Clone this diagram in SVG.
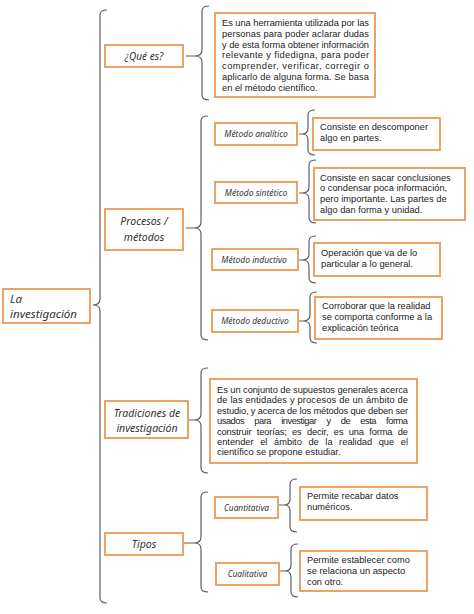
<svg xmlns="http://www.w3.org/2000/svg" width="474" height="614" viewBox="0 0 474 614">
<style>
.box{fill:#fff;stroke:#EBA262;stroke-width:2}
.br{fill:none;stroke:#5f5f5f;stroke-width:1.2}
.lb{font-family:"Noto Sans","DejaVu Sans",sans-serif;font-style:italic;fill:#333}
.tx{font-family:"Liberation Sans",Arial,sans-serif;font-size:9.3px;fill:#222}
</style>
<rect width="474" height="614" fill="#fff"/>
<g id="connectors">
<path class="br" d="M107,10 Q100,10 100,15 L100,299 Q100,305 93,305 Q100,305 100,311 L100,598 Q100,603 107,603"/>
<path class="br" d="M209,6 Q202,6 202,11 L202,50 Q202,56 195,56 Q202,56 202,62 L202,95 Q202,100 209,100 M186,56 L195,56"/>
<path class="br" d="M208,116 Q201,116 201,121 L201,222 Q201,228 194,228 Q201,228 201,234 L201,335 Q201,340 208,340 M186,228 L194,228"/>
<path class="br" d="M315,110 Q308,110 308,115 L308,128 Q308,134 302,134 Q308,134 308,140 L308,150 Q308,155 315,155 M299,134 L302,134"/>
<path class="br" d="M316,160 Q309,160 309,165 L309,187 Q309,193 302,193 Q309,193 309,199 L309,218 Q309,223 316,223 M299,193 L302,193"/>
<path class="br" d="M316,236 Q309,236 309,241 L309,254 Q309,260 302,260 Q309,260 309,266 L309,278 Q309,283 316,283 M299,260 L302,260"/>
<path class="br" d="M317,292 Q310,292 310,297 L310,315 Q310,321 303,321 Q310,321 310,327 L310,338 Q310,343 317,343 M299,321 L303,321"/>
<path class="br" d="M208,368 Q201,368 201,373 L201,414 Q201,420 194,420 Q201,420 201,426 L201,468 Q201,473 208,473 M189,420 L194,420"/>
<path class="br" d="M208,492 Q201,492 201,497 L201,537 Q201,543 194,543 Q201,543 201,549 L201,587 Q201,592 208,592 M184,543 L194,543"/>
<path class="br" d="M297,479 Q290,479 290,484 L290,499 Q290,505 284,505 Q290,505 290,511 L290,527 Q290,532 297,532 M279,505 L284,505"/>
<path class="br" d="M298,544 Q291,544 291,549 L291,565 Q291,571 285,571 Q291,571 291,577 L291,592 Q291,597 298,597 M280,571 L285,571"/>
</g>
<g id="n-investigacion">
<rect class="box" x="3" y="289" width="87" height="34"/>
<text class="lb" font-size="11.5" x="10" y="303">La</text>
<text class="lb" font-size="11.5" x="10" y="317.5">investigación</text>
</g>
<g id="n-quees">
<rect class="box" x="105" y="45" width="78" height="22"/>
<text class="lb" font-size="10" x="144" y="59.5" text-anchor="middle">¿Qué es?</text>
</g>
<g id="t-quees">
<rect class="box" x="215" y="13" width="160" height="84"/>
<text class="tx" x="222" y="26" textLength="147" lengthAdjust="spacing">Es una herramienta utilizada por las</text>
<text class="tx" x="222" y="36.8" textLength="147" lengthAdjust="spacing">personas para poder aclarar dudas</text>
<text class="tx" x="222" y="47.6" textLength="147" lengthAdjust="spacing">y de esta forma obtener información</text>
<text class="tx" x="222" y="58.4" textLength="147" lengthAdjust="spacing">relevante y fidedigna, para poder</text>
<text class="tx" x="222" y="69.2" textLength="147" lengthAdjust="spacing">comprender, verificar, corregir o</text>
<text class="tx" x="222" y="80" textLength="147" lengthAdjust="spacing">aplicarlo de alguna forma. Se basa</text>
<text class="tx" x="222" y="90.8">en el método científico.</text>
</g>
<g id="n-procesos">
<rect class="box" x="105" y="209" width="78" height="41"/>
<text class="lb" font-size="10.5" x="144" y="225" text-anchor="middle">Procesos /</text>
<text class="lb" font-size="10.5" x="144" y="240.5" text-anchor="middle">métodos</text>
</g>
<g id="n-analitico">
<rect class="box" x="215" y="123" width="82" height="22"/>
<text class="lb" font-size="8.5" x="256" y="137" text-anchor="middle">Método analítico</text>
</g>
<g id="t-analitico">
<rect class="box" x="313" y="118" width="127" height="32"/>
<text class="tx" x="320" y="130">Consiste en descomponer</text>
<text class="tx" x="320" y="141">algo en partes.</text>
</g>
<g id="n-sintetico">
<rect class="box" x="215" y="182" width="82" height="21"/>
<text class="lb" font-size="8.5" x="256" y="195.5" text-anchor="middle">Método sintético</text>
</g>
<g id="t-sintetico">
<rect class="box" x="314" y="168" width="151" height="52"/>
<text class="tx" x="320" y="180.5">Consiste en sacar conclusiones</text>
<text class="tx" x="320" y="191.4">o condensar poca información,</text>
<text class="tx" x="320" y="202.3">pero importante. Las partes de</text>
<text class="tx" x="320" y="213.2">algo dan forma y unidad.</text>
</g>
<g id="n-inductivo">
<rect class="box" x="212" y="249" width="86" height="21"/>
<text class="lb" font-size="8.5" x="254" y="262.5" text-anchor="middle">Método inductivo</text>
</g>
<g id="t-inductivo">
<rect class="box" x="314" y="243" width="126" height="33"/>
<text class="tx" x="321" y="256">Operación que va de lo</text>
<text class="tx" x="321" y="267">particular a lo general.</text>
</g>
<g id="n-deductivo">
<rect class="box" x="212" y="310" width="86" height="22"/>
<text class="lb" font-size="8.5" x="255" y="324" text-anchor="middle">Método deductivo</text>
</g>
<g id="t-deductivo">
<rect class="box" x="315" y="297" width="127" height="42"/>
<text class="tx" x="322" y="309">Corroborar que la realidad</text>
<text class="tx" x="322" y="320">se comporta conforme a la</text>
<text class="tx" x="322" y="331">explicación teórica</text>
</g>
<g id="n-tradiciones">
<rect class="box" x="105" y="401" width="83" height="37"/>
<text class="lb" font-size="10.5" x="147" y="417" text-anchor="middle">Tradiciones de</text>
<text class="lb" font-size="10.5" x="147" y="432" text-anchor="middle">investigación</text>
</g>
<g id="t-tradiciones">
<rect class="box" x="210" y="379" width="207" height="84"/>
<text class="tx" x="217" y="393" textLength="191" lengthAdjust="spacing">Es un conjunto de supuestos generales acerca</text>
<text class="tx" x="217" y="403.4" textLength="191" lengthAdjust="spacing">de las entidades y procesos de un ámbito de</text>
<text class="tx" x="217" y="413.8" textLength="191" lengthAdjust="spacing">estudio, y acerca de los métodos que deben ser</text>
<text class="tx" x="217" y="424.2" textLength="191" lengthAdjust="spacing" word-spacing="8">usados para investigar y de esta forma</text>
<text class="tx" x="217" y="434.6" textLength="191" lengthAdjust="spacing" word-spacing="3">construir teorías; es decir, es una forma de</text>
<text class="tx" x="217" y="445" textLength="191" lengthAdjust="spacing" word-spacing="4">entender el ámbito de la realidad que el</text>
<text class="tx" x="217" y="455.4">científico se propone estudiar.</text>
</g>
<g id="n-tipos">
<rect class="box" x="105" y="533" width="78" height="22"/>
<text class="lb" font-size="10.5" x="144" y="547.5" text-anchor="middle">Tipos</text>
</g>
<g id="n-cuantitativa">
<rect class="box" x="215" y="497" width="63" height="21"/>
<text class="lb" font-size="8.3" x="246.5" y="510.5" text-anchor="middle">Cuantitativa</text>
</g>
<g id="t-cuantitativa">
<rect class="box" x="300" y="487" width="127" height="33"/>
<text class="tx" x="307" y="499">Permite recabar datos</text>
<text class="tx" x="307" y="510">numéricos.</text>
</g>
<g id="n-cualitativa">
<rect class="box" x="216" y="563" width="63" height="22"/>
<text class="lb" font-size="8.3" x="247.5" y="577" text-anchor="middle">Cualitativa</text>
</g>
<g id="t-cualitativa">
<rect class="box" x="300" y="551" width="127" height="40"/>
<text class="tx" x="307" y="563">Permite establecer como</text>
<text class="tx" x="307" y="574">se relaciona un aspecto</text>
<text class="tx" x="307" y="585">con otro.</text>
</g>
</svg>
